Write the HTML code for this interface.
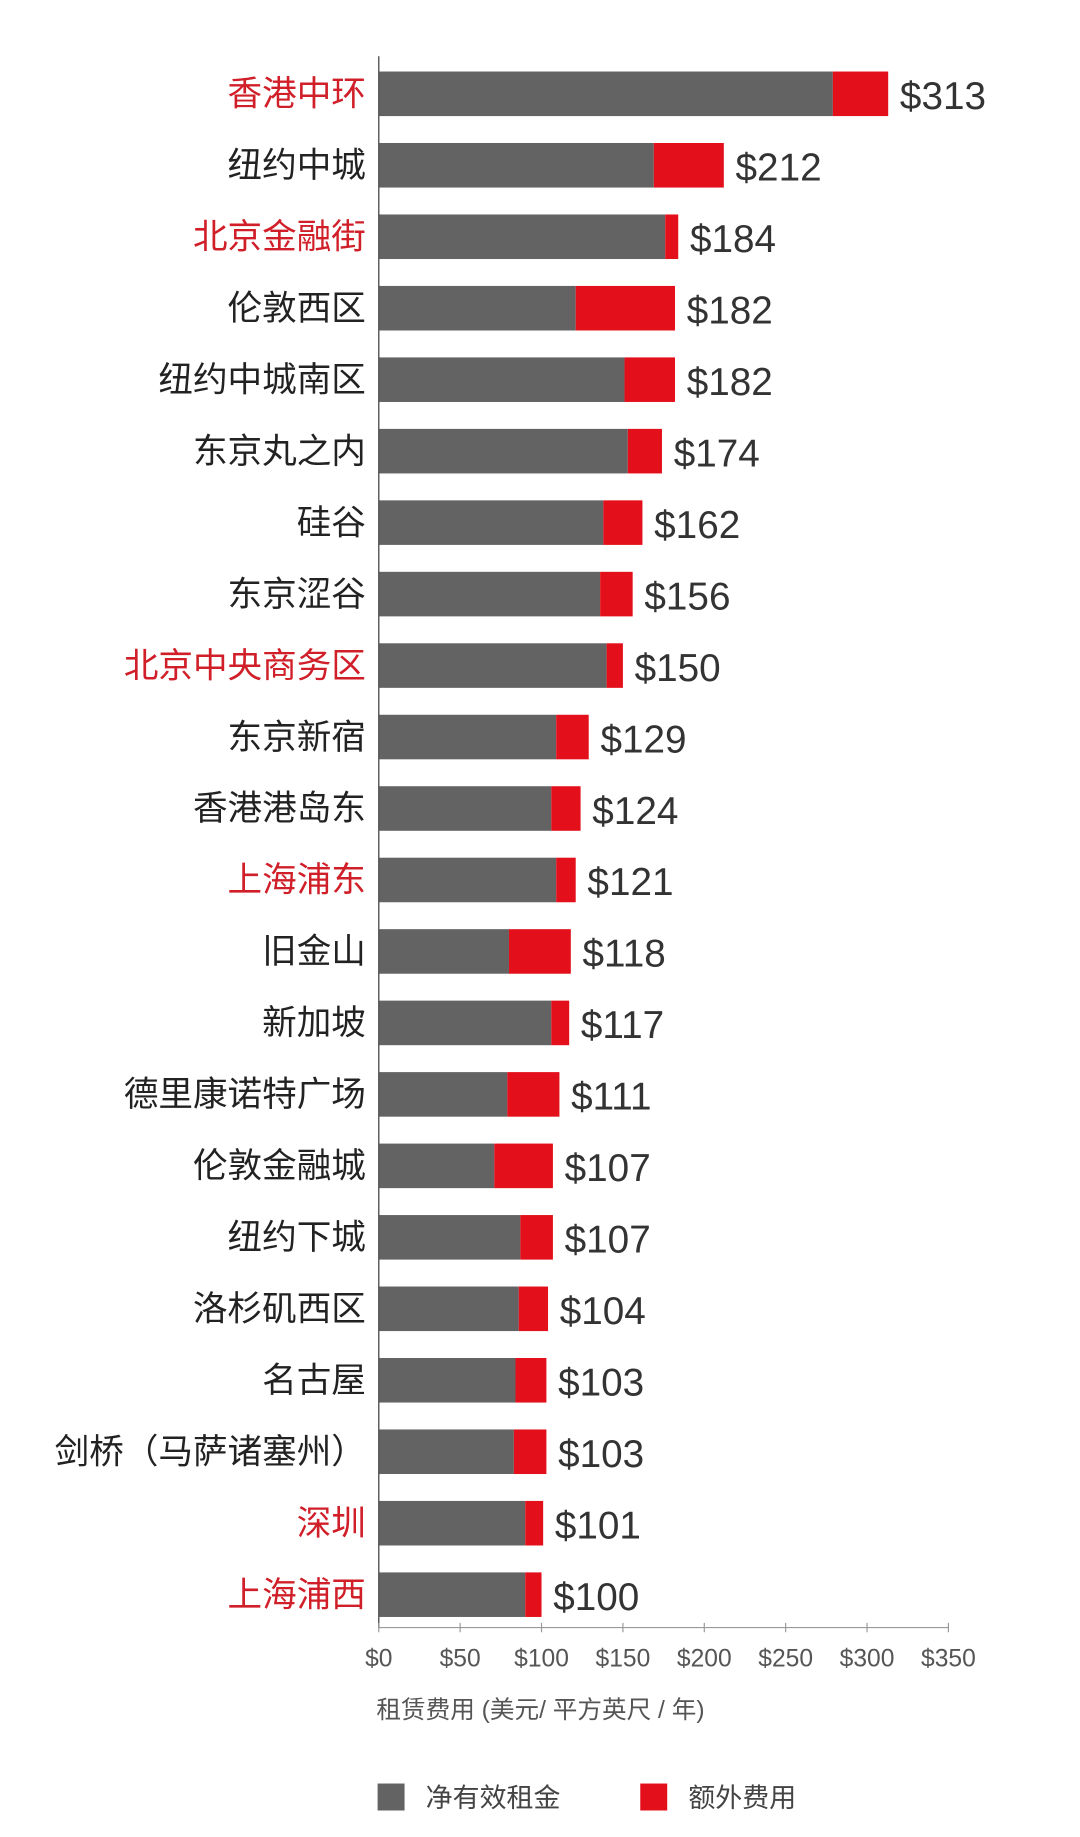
<!DOCTYPE html>
<html><head><meta charset="utf-8"><style>
html,body{margin:0;padding:0;background:#fff;}
svg{display:block;}
text{font-family:"Liberation Sans","Noto Sans CJK SC",sans-serif;}
</style></head><body>
<svg id="chart" width="1080" height="1837" viewBox="0 0 921 1566.6" xmlns="http://www.w3.org/2000/svg"></svg>
<script>
const categories=["香港中环","纽约中城","北京金融街","伦敦西区","纽约中城南区","东京丸之内","硅谷","东京涩谷","北京中央商务区","东京新宿","香港港岛东","上海浦东","旧金山","新加坡","德里康诺特广场","伦敦金融城","纽约下城","洛杉矶西区","名古屋","剑桥（马萨诸塞州）","深圳","上海浦西"];
const netRent=[279,169,176,121,151,153,138,136,140,109,106,109,80,106,79,71,87,86,84,83,90,90];
const totals=[313,212,184,182,182,174,162,156,150,129,124,121,118,117,111,107,107,104,103,103,101,100];
const highlight=[1,0,1,0,0,0,0,0,1,0,0,1,0,0,0,0,0,0,0,0,1,1];
const ticks=[0,50,100,150,200,250,300,350];
const NS="http://www.w3.org/2000/svg";
const svg=document.getElementById('chart');
const x0=323,pxPer=69.4/50,y0=80,step=60.95,bh=38;
const xs=v=>x0+v*pxPer, ys=i=>y0+i*step;
function mk(t,a){const e=document.createElementNS(NS,t);for(const k in a)e.setAttribute(k,a[k]);svg.appendChild(e);return e;}
categories.forEach((c,i)=>{
  const cy=ys(i);
  const g=mk('rect',{x:x0,y:cy-bh/2,width:xs(netRent[i])-x0,height:bh,fill:'#636363'});
  
  
  const r=mk('rect',{x:xs(netRent[i]),y:cy-bh/2,width:xs(totals[i])-xs(netRent[i]),height:bh,fill:'#e3101b'});
  
  
  const l=mk('text',{x:312,y:cy+10,'text-anchor':'end','font-size':29.5,fill:highlight[i]?'#d01f29':'#222'});
  l.textContent=c;
  
  
  const v=mk('text',{x:xs(totals[i])+10,y:cy+13,'font-size':33,fill:'#333'});
  v.textContent='$'+totals[i];
  
  
});
const ax=mk('line',{x1:x0,y1:48,x2:x0,y2:1388,stroke:'#555','stroke-width':1.2});


const bx=mk('line',{x1:x0,y1:1388,x2:xs(350),y2:1388,stroke:'#999','stroke-width':1});


ticks.forEach(t=>{
  const tk=mk('line',{x1:xs(t),y1:1384,x2:xs(t),y2:1392,stroke:'#999'});
  
  
  const tl=mk('text',{x:xs(t),y:1421,'text-anchor':'middle','font-size':21,fill:'#555'});
  tl.textContent='$'+t;
  
  
});
const at=mk('text',{x:321,y:1465,'font-size':21,fill:'#555'});
at.textContent='租赁费用 (美元/ 平方英尺 / 年)';


[[322,'#636363','净有效租金'],[546,'#e3101b','额外费用']].forEach(([x,c,t])=>{
  const s=mk('rect',{x:x,y:1521,width:23,height:23,fill:c});
  
  
  const lt=mk('text',{x:x+41,y:1541,'font-size':23,fill:'#444'});
  lt.textContent=t;
  
  
});
</script>
</body></html>
